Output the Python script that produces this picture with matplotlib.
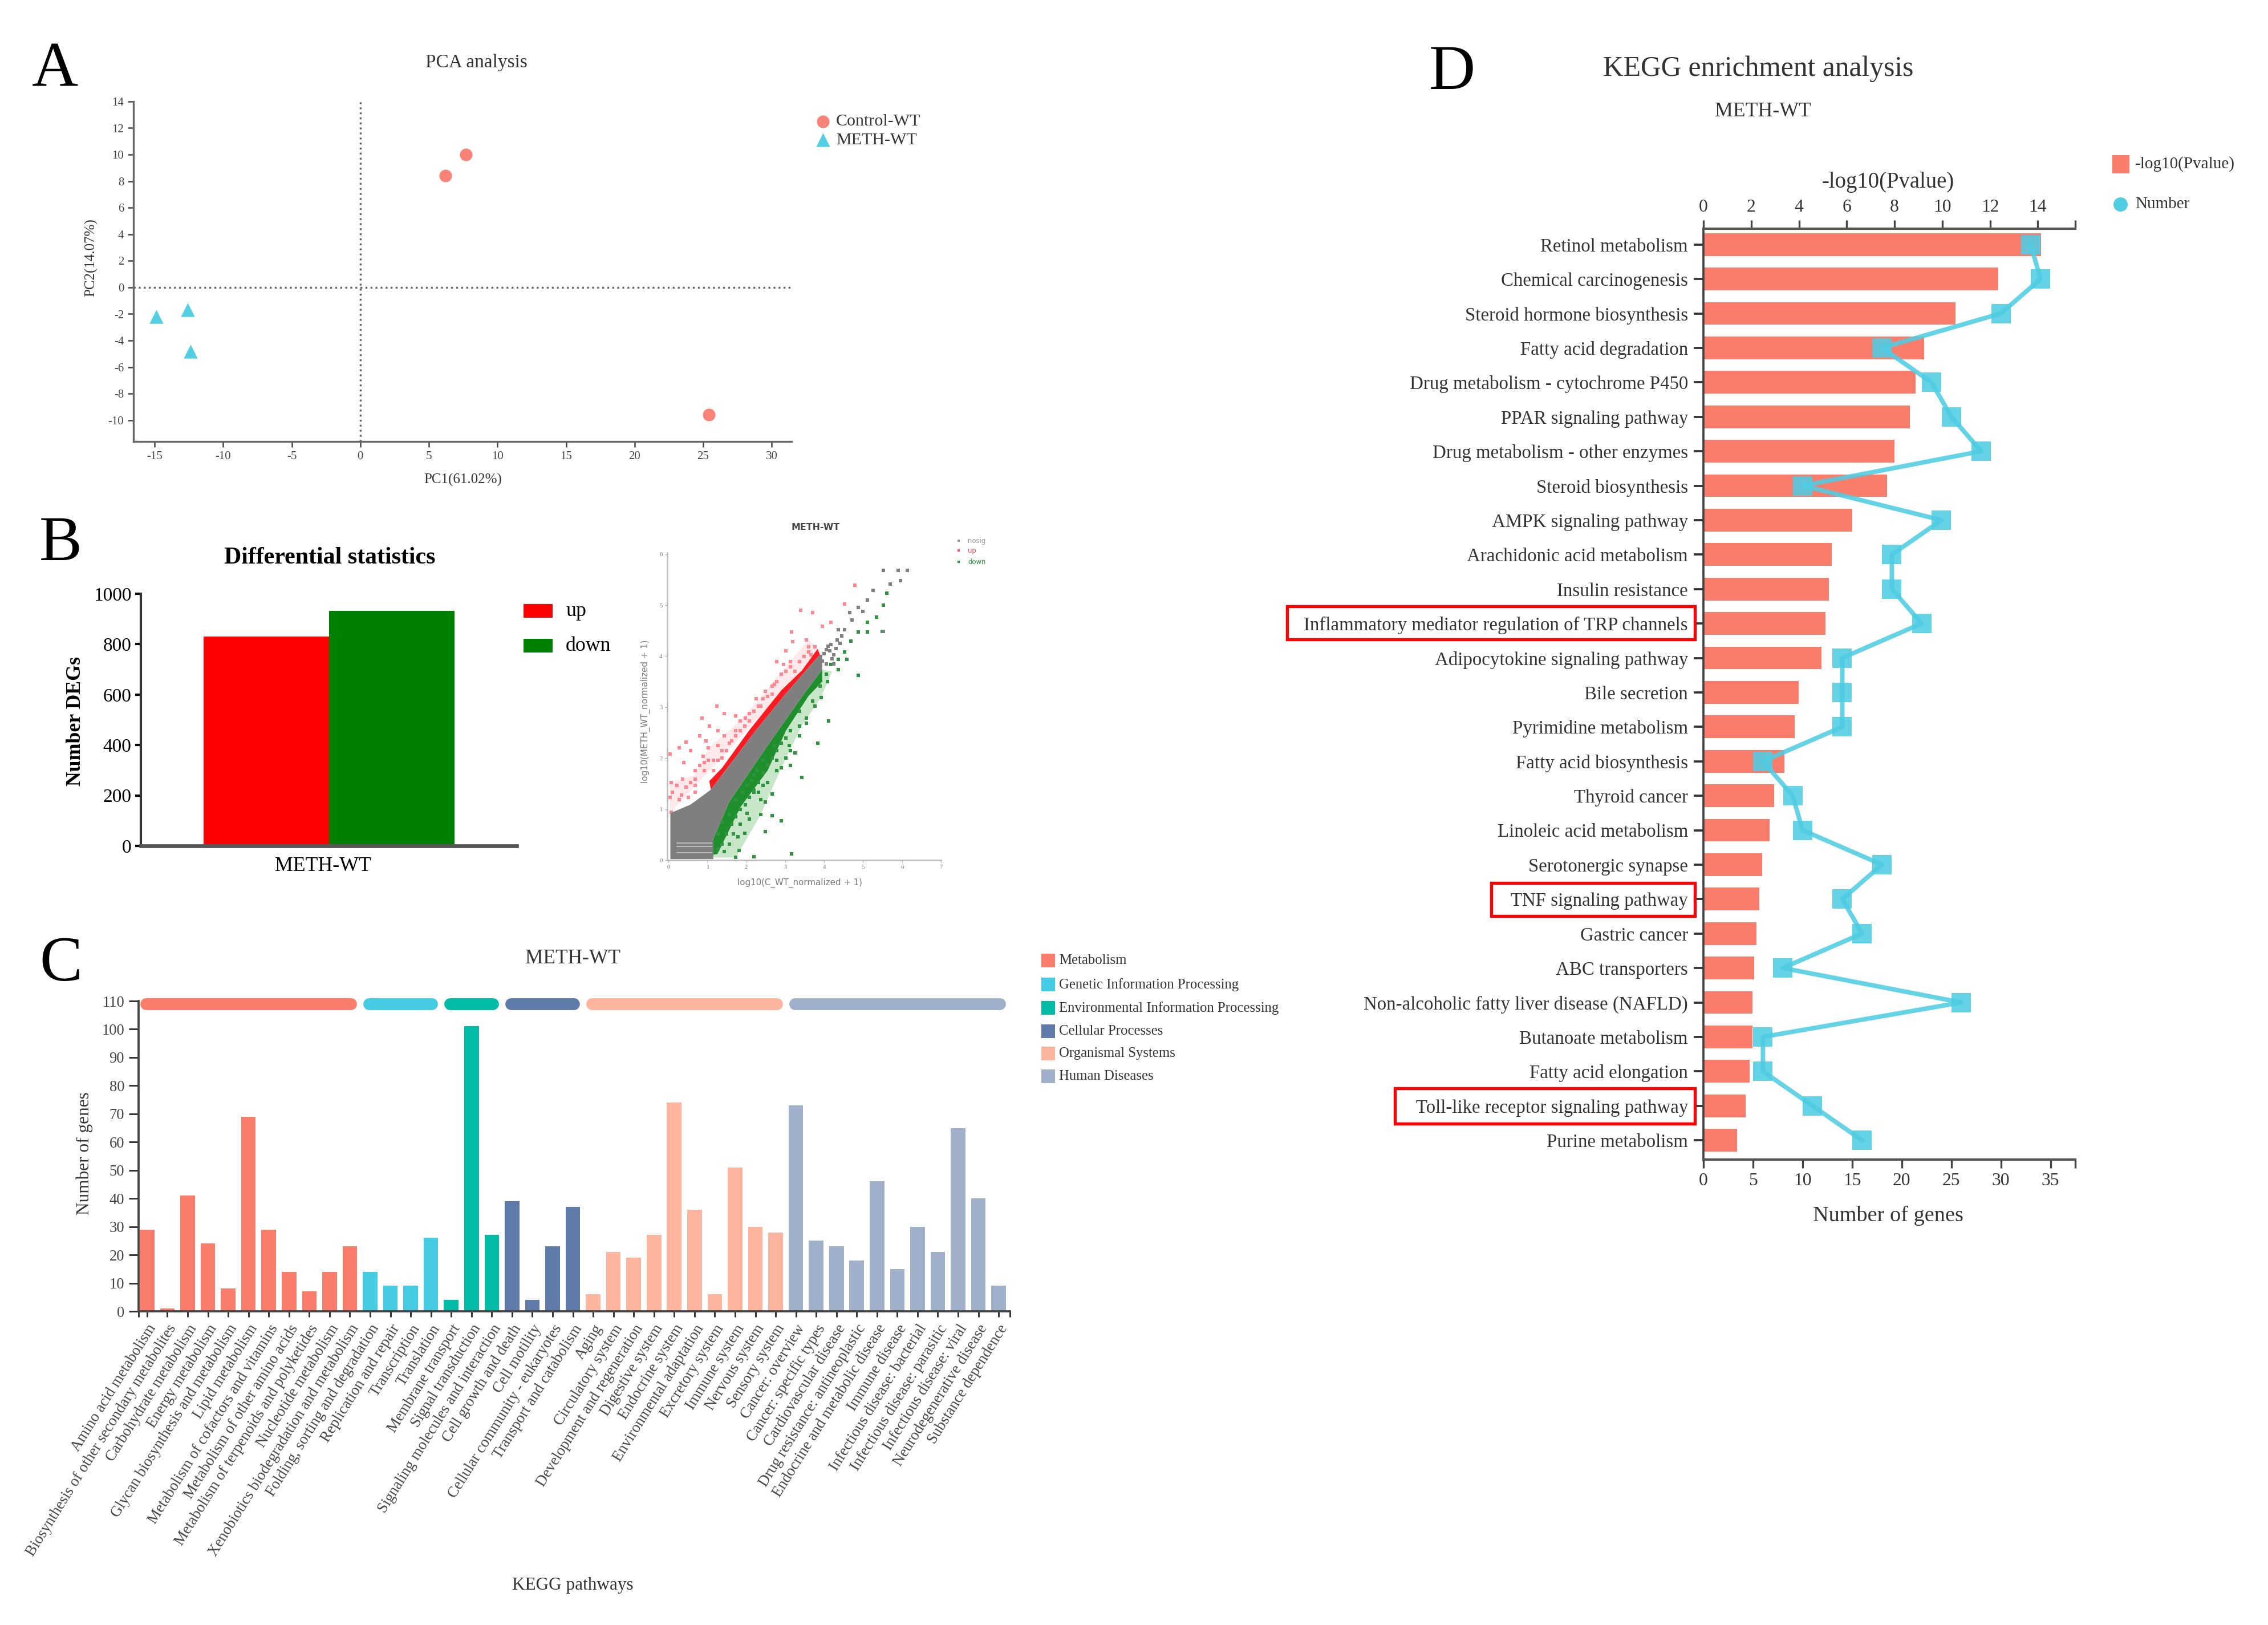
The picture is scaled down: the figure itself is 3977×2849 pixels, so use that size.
import matplotlib
matplotlib.use("Agg")
import matplotlib.pyplot as plt
from matplotlib.patches import Rectangle, Polygon

W, H = 3977, 2849
plt.rcParams['font.family'] = ['Liberation Serif', 'DejaVu Serif']
plt.rcParams['axes.unicode_minus'] = False

# ---------- Panel A ----------
pca_control_x = [7.7, 6.2, 25.4]
pca_control_y = [10.0, 8.4, -9.6]
pca_meth_x = [-14.9, -12.6, -12.4]
pca_meth_y = [-2.2, -1.7, -4.8]
pca_xticks = [-15, -10, -5, 0, 5, 10, 15, 20, 25, 30]
pca_yticks = [14, 12, 10, 8, 6, 4, 2, 0, -2, -4, -6, -8, -10]

# ---------- Panel B (bars) ----------
deg_labels = ['up', 'down']
deg_values = [831, 931]
deg_yticks = [0, 200, 400, 600, 800, 1000]

# ---------- Panel B (scatter): outlines and points ----------
grey_band_x = [0.05, 0.05, 0.57, 1.09, 1.38, 2.2, 3.0, 3.89, 3.95, 3.95, 3.48, 2.55, 1.56, 1.15, 1.15]
grey_band_y = [0.02, 0.92, 1.09, 1.38, 1.67, 2.5, 3.25, 4.03, 4.03, 3.74, 3.26, 2.25, 1.14, 0.41, 0.02]
red_band_x = [1.05, 1.38, 2.08, 2.90, 3.43, 3.83, 3.89, 3.0, 2.2, 1.38, 1.09]
red_band_y = [1.55, 1.81, 2.55, 3.33, 3.72, 4.14, 4.03, 3.25, 2.5, 1.67, 1.38]
green_band_x = [0.80, 1.26, 1.85, 2.55, 3.02, 3.60, 3.95, 3.95, 3.48, 2.55, 1.56, 1.15, 1.15]
green_band_y = [0.05, 0.12, 1.04, 1.76, 2.54, 3.22, 3.50, 3.74, 3.26, 2.25, 1.14, 0.41, 0.02]
stripe_y = [0.34, 0.27, 0.14]
pale_up_x = [0.04, 0.04, 0.68, 1.03, 1.56, 1.96, 2.55, 3.02, 3.60, 3.9]
pale_up_y = [0.92, 1.52, 1.67, 2.20, 2.54, 2.83, 3.36, 3.80, 4.32, 4.1]
pale_down_x = [0.80, 1.73, 2.37, 2.90, 3.42, 3.92, 4.2, 3.95]
pale_down_y = [0.05, 0.05, 0.89, 1.81, 2.63, 3.19, 3.7, 3.74]
up_x = [.04,.27,.45,.07,.04,.07,.36,.68,.89,.86,1.06,1.24,1.44,1.27,1.44,1.73,1.85,2.08,2.26,2.49,2.72,2.78,3.01,3.19,3.16,3.54,3.66,3.95,4.18,3.39,3.71,4.53,4.79,.68,.92,1.15,1.38,1.73,1.96,2.37,2.66,2.96,3.13,3.60,.51,.27,.68,1.03,1.27,1.56,
        .10,.22,.33,.45,.57,.68,.80,.92,1.03,1.15,1.27,1.38,1.50,1.62,1.73,1.85,1.97,2.08,2.20,2.31,2.43,2.55,2.66,2.78,2.90,3.01,3.13,3.25,3.36,3.48,3.60,3.77,.39,.57,.80,.97]
up_y = [2.08,2.20,2.32,1.52,1.23,.94,1.59,1.59,2.03,2.78,2.63,3.02,2.87,2.54,2.44,2.83,2.73,2.87,3.16,3.31,3.45,3.89,4.11,4.28,4.47,4.32,4.03,4.59,4.66,4.90,4.86,5.02,5.39,1.33,1.76,1.96,2.15,2.54,2.63,3.02,3.26,3.84,3.79,4.08,1.23,1.18,1.47,2.20,2.25,2.29,
        1.33,1.47,1.28,1.43,1.52,1.76,1.86,1.91,1.96,1.76,1.96,2.00,2.15,2.34,2.44,2.54,2.78,2.73,2.92,3.02,3.16,3.21,3.41,3.50,3.65,3.70,3.89,3.70,3.89,3.99,4.18,4.18,1.91,2.15,2.44,2.34]
down_x = [5.61,5.52,5.35,5.11,4.88,5.11,5.49,4.68,4.59,4.36,4.18,4.88,4.09,3.92,3.54,3.36,4.12,3.83,3.42,3.13,3.25,3.01,2.78,2.66,2.49,2.37,2.90,2.66,2.37,2.49,2.08,1.79,1.82,2.20,1.73,3.16,1.96,3.13,3.10,2.72,2.43,2.20,2.20,2.90,3.77,3.36,
          1.27,1.38,1.50,1.62,1.73,1.85,1.97,2.08,2.20,2.31,2.43,2.55,2.66,2.78,2.90,3.01,1.38,1.56,1.73,1.91,2.02,2.14,2.29,2.43,1.56,1.44,1.27,1.67,1.85,2.02,2.31,2.55,2.78,3.13,3.36,3.54,3.71,3.89,4.06,4.36,4.53]
down_y = [5.24,5.00,4.76,4.66,4.47,4.47,4.49,4.30,3.94,3.74,3.84,3.62,3.50,3.19,2.78,2.63,2.73,2.29,1.62,1.86,2.10,2.00,1.96,1.30,1.14,1.18,.77,.87,.89,.56,.80,.46,.19,.07,.05,.12,.53,2.54,2.25,2.25,1.47,1.33,1.67,1.81,3.02,2.92,
          .51,.31,.51,.70,.85,.99,1.09,1.23,1.38,1.52,1.71,1.86,2.00,2.15,2.29,2.39,.75,.89,1.18,1.33,1.47,1.57,1.76,1.96,.31,.17,.22,.51,.70,.92,1.33,1.52,1.76,2.15,2.44,2.68,3.12,3.41,3.65,3.94,4.08]
nosig_x = [5.52,5.90,6.13,5.96,5.70,5.26,5.11,5.0,4.71,4.53,4.36,4.33,4.18,4.41,4.06,4.24,4.88,4.65,5.52,4.0,4.1,4.2,3.95,4.05,4.15,4.3,4.45,4.25]
nosig_y = [5.68,5.68,5.68,5.48,5.41,5.29,5.10,4.88,4.71,4.52,4.52,4.32,4.23,4.25,4.13,4.03,4.95,4.86,4.49,4.05,4.2,3.95,3.9,3.85,4.1,4.15,4.4,3.85]
scatter_xticks = [0, 1, 2, 3, 4, 5, 6, 7]
scatter_yticks = [0, 1, 2, 3, 4, 5, 6]

# ---------- Panel C ----------
group_names = ['Metabolism', 'Genetic Information Processing',
               'Environmental Information Processing', 'Cellular Processes',
               'Organismal Systems', 'Human Diseases']
group_colors = ['#FA7D6C', '#45CCE2', '#00BBA5', '#5F7BAA', '#FFB49E', '#A0AFCA']
group_sizes = [11, 4, 3, 4, 10, 11]
pathways = [
    'Amino acid metabolism', 'Biosynthesis of other secondary metabolites',
    'Carbohydrate metabolism', 'Energy metabolism',
    'Glycan biosynthesis and metabolism', 'Lipid metabolism',
    'Metabolism of cofactors and vitamins', 'Metabolism of other amino acids',
    'Metabolism of terpenoids and polyketides', 'Nucleotide metabolism',
    'Xenobiotics biodegradation and metabolism',
    'Folding, sorting and degradation', 'Replication and repair', 'Transcription', 'Translation',
    'Membrane transport', 'Signal transduction', 'Signaling molecules and interaction',
    'Cell growth and death', 'Cell motility', 'Cellular community - eukaryotes', 'Transport and catabolism',
    'Aging', 'Circulatory system', 'Development and regeneration', 'Digestive system',
    'Endocrine system', 'Environmental adaptation', 'Excretory system', 'Immune system',
    'Nervous system', 'Sensory system',
    'Cancer: overview', 'Cancer: specific types', 'Cardiovascular disease',
    'Drug resistance: antineoplastic', 'Endocrine and metabolic disease', 'Immune disease',
    'Infectious disease: bacterial', 'Infectious disease: parasitic', 'Infectious disease: viral',
    'Neurodegenerative disease', 'Substance dependence']
pathway_genes = [29, 1, 41, 24, 8, 69, 29, 14, 7, 14, 23,
                 14, 9, 9, 26,
                 4, 101, 27,
                 39, 4, 23, 37,
                 6, 21, 19, 27, 74, 36, 6, 51, 30, 28,
                 73, 25, 23, 18, 46, 15, 30, 21, 65, 40, 9]
pathway_yticks = list(range(0, 111, 10))

# ---------- Panel D ----------
kegg_terms = [
    'Retinol metabolism', 'Chemical carcinogenesis', 'Steroid hormone biosynthesis',
    'Fatty acid degradation', 'Drug metabolism - cytochrome P450', 'PPAR signaling pathway',
    'Drug metabolism - other enzymes', 'Steroid biosynthesis', 'AMPK signaling pathway',
    'Arachidonic acid metabolism', 'Insulin resistance',
    'Inflammatory mediator regulation of TRP channels', 'Adipocytokine signaling pathway',
    'Bile secretion', 'Pyrimidine metabolism', 'Fatty acid biosynthesis', 'Thyroid cancer',
    'Linoleic acid metabolism', 'Serotonergic synapse', 'TNF signaling pathway', 'Gastric cancer',
    'ABC transporters', 'Non-alcoholic fatty liver disease (NAFLD)', 'Butanoate metabolism',
    'Fatty acid elongation', 'Toll-like receptor signaling pathway', 'Purine metabolism']
kegg_logp = [14.13, 12.34, 10.55, 9.25, 8.89, 8.64, 8.0, 7.69, 6.23, 5.37, 5.24, 5.11, 4.93,
             3.99, 3.83, 3.40, 2.96, 2.78, 2.45, 2.35, 2.22, 2.12, 2.04, 2.04, 1.94, 1.76, 1.41]
kegg_number = [33, 34, 30, 18, 23, 25, 28, 10, 24, 19, 19, 22, 14,
               14, 14, 6, 9, 10, 18, 14, 16, 8, 26, 6, 6, 11, 16]
kegg_top_ticks = [0, 2, 4, 6, 8, 10, 12, 14]
kegg_bottom_ticks = [0, 5, 10, 15, 20, 25, 30, 35]

fig = plt.figure(figsize=((W + 0.1) / 300, (H + 0.1) / 300), dpi=300, facecolor='white')


def px_axes(l, t, r, b):
    return fig.add_axes([l / W, 1 - b / H, (r - l) / W, (b - t) / H])


def label(x, y, s, **kw):
    kw.setdefault('ha', 'center')
    kw.setdefault('va', 'center')
    kw.setdefault('color', '#333333')
    fig.text(x / W, 1 - y / H, s, **kw)


def box(l, t, r, b, **kw):
    fig.add_artist(Rectangle((l / W, 1 - b / H), (r - l) / W, (b - t) / H,
                             transform=fig.transFigure, **kw))


for x, y, s in [(96, 124, 'A'), (106, 955, 'B'), (107, 1692, 'C'), (2546, 129, 'D')]:
    label(x, y, s, fontsize=27, color='black')

# ========== A ==========
CIRCLE = '#FA8377'
TRI = '#52CFE3'
ax = px_axes(234, 178, 1388, 774)
ax.scatter(pca_control_x, pca_control_y, s=28, c=CIRCLE, marker='o', linewidths=0, clip_on=False)
ax.scatter(pca_meth_x, pca_meth_y, s=34, c=TRI, marker='^', linewidths=0, clip_on=False)
ax.axhline(0, color='#666666', lw=0.8, ls=':')
ax.axvline(0, color='#666666', lw=0.8, ls=':')
ax.set_xlim(-16.55, 31.45)
ax.set_ylim(-11.6, 14)
ax.set_xticks(pca_xticks)
ax.set_yticks(pca_yticks)
ax.tick_params(labelsize=5, length=2.5, width=0.6, color='#444444', labelcolor='#444444', pad=1.5)
for s in ['top', 'right']:
    ax.spines[s].set_visible(False)
for s in ['left', 'bottom']:
    ax.spines[s].set_color('#666666')
    ax.spines[s].set_linewidth(0.8)
label(835, 110, 'PCA analysis', fontsize=8)
label(812, 841, 'PC1(61.02%)', fontsize=6)
label(160, 452, 'PC2(14.07%)', fontsize=6, rotation=90)
lg = px_axes(1420, 195, 1620, 265)
lg.set_xlim(0, 200); lg.set_ylim(70, 0); lg.axis('off')
lg.scatter([23], [18], s=28, c=CIRCLE, linewidths=0)
lg.scatter([23], [50], s=34, c=TRI, marker='^', linewidths=0)
label(1466, 213, 'Control-WT', fontsize=7.2, ha='left')
label(1466, 246, 'METH-WT', fontsize=7.2, ha='left')

# ========== B bars ==========
ax = px_axes(247, 1041, 906, 1483)
ax.bar([-0.5, 0.5], deg_values, width=1.0, color=['#FF0000', '#008000'])
ax.set_xlim(-1.5, 1.495)
ax.set_ylim(0, 1000)
ax.set_xticks([-0.05], ['METH-WT'])
ax.set_yticks(deg_yticks)
ax.tick_params(axis='x', length=0, labelsize=8.6, pad=4.5)
ax.tick_params(axis='y', length=2.5, width=1, labelsize=8, pad=1.5)
for s in ['top', 'right']:
    ax.spines[s].set_visible(False)
ax.spines['left'].set_linewidth(1.0)
ax.spines['left'].set_color('#333333')
ax.spines['bottom'].set_linewidth(1.6)
ax.spines['bottom'].set_color('#555555')
label(578, 978, 'Differential statistics', fontsize=10.1, fontweight='bold', color='black')
label(132, 1264, 'Number DEGs', fontsize=8.6, fontweight='bold', rotation=90, color='black')
box(918, 1059, 969, 1083, facecolor='#FF0000', edgecolor='none')
box(918, 1120, 969, 1144, facecolor='#008000', edgecolor='none')
label(992, 1071, deg_labels[0], fontsize=8.6, ha='left', color='black')
label(992, 1132, deg_labels[1], fontsize=8.6, ha='left', color='black')

# ========== B scatter ==========
ax = px_axes(1170, 969, 1650, 1508)
ax.set_xlim(-0.03, 7)
ax.set_ylim(0, 6.03)
ax.add_patch(Polygon(list(zip(pale_up_x, pale_up_y)), closed=True, facecolor='#FFD5D9', edgecolor='none', alpha=0.5))
ax.add_patch(Polygon(list(zip(pale_down_x, pale_down_y)), closed=True, facecolor='#9CD49C', edgecolor='none', alpha=0.55))
ax.add_patch(Polygon(list(zip(red_band_x, red_band_y)), closed=True, facecolor='#FF1A22', edgecolor='none'))
ax.add_patch(Polygon(list(zip(green_band_x, green_band_y)), closed=True, facecolor='#1F8F2E', edgecolor='none'))
ax.scatter(up_x, up_y, s=1.5, c='#FF8792', marker='s', linewidths=0)
ax.scatter(down_x, down_y, s=1.5, c='#2E9440', marker='s', linewidths=0)
ax.scatter(nosig_x, nosig_y, s=2.2, c='#808080', marker='s', linewidths=0)
ax.add_patch(Polygon(list(zip(grey_band_x, grey_band_y)), closed=True, facecolor='#7F7F7F', edgecolor='none'))
ax.hlines(stripe_y, 0.2, 1.12, color='#C8C8C8', lw=0.4)
ax.set_xticks(scatter_xticks)
ax.set_yticks(scatter_yticks)
ax.tick_params(labelsize=2.6, length=1, width=0.3, color='#AAAAAA', labelcolor='#777777', pad=1)
for s in ['top', 'right']:
    ax.spines[s].set_visible(False)
for s in ['left', 'bottom']:
    ax.spines[s].set_color('#BBBBBB')
    ax.spines[s].set_linewidth(0.6)
label(1430, 924, 'METH-WT', fontsize=3.8, fontweight='bold', family='DejaVu Sans', color='#444444')
label(1402, 1548, 'log10(C_WT_normalized + 1)', fontsize=3.6, family='DejaVu Sans', color='#777777')
label(1132, 1247, 'log10(METH_WT_normalized + 1)', fontsize=3.6, family='DejaVu Sans', color='#777777', rotation=90)
for yy, txt, col in [(948, 'nosig', '#999999'), (965, 'up', '#FF5060'), (985, 'down', '#2E9440')]:
    label(1697, yy, txt, fontsize=2.8, ha='left', family='DejaVu Sans', color=col)
    box(1679, yy - 2, 1683, yy + 2, facecolor=col, edgecolor='none')

# ========== C ==========
ax = px_axes(243, 1755, 1771, 2299)
colors = []
for name_color, n in zip(group_colors, group_sizes):
    colors += [name_color] * n
positions = list(range(len(pathways)))
ax.bar(positions, pathway_genes, width=0.72, color=colors)
ax.set_xlim(-0.42, 42.56)
ax.set_ylim(0, 110)
ax.set_yticks(pathway_yticks)
ax.set_xticks(positions, pathways, rotation=58, ha='right', rotation_mode='anchor')
ax.set_xticks([-0.42, 42.56], minor=True)
ax.tick_params(axis='x', which='both', length=2.5, width=0.7, color='#333333')
ax.tick_params(axis='x', which='major', labelsize=6.45, labelcolor='#444444', pad=2)
ax.tick_params(axis='y', length=4, width=0.7, color='#333333', labelsize=6.4, labelcolor='#444444', pad=2)
for s in ['top', 'right']:
    ax.spines[s].set_visible(False)
for s in ['left', 'bottom']:
    ax.spines[s].set_color('#444444')
    ax.spines[s].set_linewidth(0.9)
start = 0
for c, n in zip(group_colors, group_sizes):
    stop = start + n - 1
    ax.plot([start - 0.05, stop + 0.05], [108.9, 108.9], color=c, lw=5, solid_capstyle='round', clip_on=False)
    start += n
label(1004, 1680, 'METH-WT', fontsize=8.5)
label(1004, 2779, 'KEGG pathways', fontsize=7.5)
label(148, 2022, 'Number of genes', fontsize=7.5, rotation=90)
for yy, c, n in zip([1684, 1726, 1767, 1808, 1847, 1887], group_colors, group_names):
    box(1826, yy - 12, 1850, yy + 12, facecolor=c, edgecolor='none')
    label(1857, yy, n, fontsize=5.95, ha='left')

# ========== D ==========
BAR = '#FA7C6B'
LINE = '#4ECDE3'
ax = px_axes(2987, 401, 3639, 2033)
ys = list(range(len(kegg_terms)))
ax.barh(ys, kegg_logp, height=0.66, color=BAR)
ax.set_xlim(0, 15.57)
ax.set_ylim(26.56, -0.46)
ax.set_yticks(ys, kegg_terms)
ax.tick_params(axis='y', length=4, width=0.9, labelsize=7.9, labelcolor='#333333', color='#333333', pad=2.5)
ax.spines['right'].set_visible(False)
ax.spines['bottom'].set_visible(False)
ax.spines['left'].set_linewidth(0.9)
ax.spines['left'].set_color('#444444')
ax.spines['top'].set_linewidth(1.0)
ax.spines['top'].set_color('#555555')
ax2 = ax.twiny()
ax2.plot(kegg_number, ys, color=LINE, lw=1.9, marker='s', ms=8, mew=0, alpha=0.88)
ax2.set_xlim(0, 37.5)
ax2.xaxis.tick_bottom()
ax2.set_xticks(kegg_bottom_ticks)
ax2.set_xticks([37.5], minor=True)
ax2.tick_params(axis='x', which='both', length=3.5, width=0.8, color='#444444')
ax2.tick_params(axis='x', which='major', labelsize=7.6, labelcolor='#333333', pad=2)
for s in ['top', 'right', 'left']:
    ax2.spines[s].set_visible(False)
ax2.spines['bottom'].set_visible(True)
ax2.spines['bottom'].set_linewidth(1.0)
ax2.spines['bottom'].set_color('#555555')
ax.xaxis.tick_top()
ax.set_xticks(kegg_top_ticks)
ax.set_xticks([15.57], minor=True)
ax.tick_params(axis='x', which='both', length=3.5, width=0.8, color='#444444')
ax.tick_params(axis='x', which='major', labelsize=7.6, labelcolor='#333333', pad=2)
label(3083, 121, 'KEGG enrichment analysis', fontsize=11.9)
label(3091, 195, 'METH-WT', fontsize=8.6)
label(3311, 319, '-log10(Pvalue)', fontsize=9.3)
label(3311, 2131, 'Number of genes', fontsize=9.2)
box(3704, 272, 3734, 304, facecolor=BAR, edgecolor='none')
label(3744, 288, '-log10(Pvalue)', fontsize=7, ha='left')
lg = px_axes(3700, 340, 3736, 376)
lg.set_xlim(0, 36); lg.set_ylim(36, 0); lg.axis('off')
lg.scatter([18], [18], s=36, c=LINE, linewidths=0)
label(3744, 358, 'Number', fontsize=7, ha='left')
for l, t, r, b in [(2257, 1063, 2972, 1121), (2615, 1548, 2972, 1606), (2446, 1908, 2972, 1970)]:
    box(l, t, r, b, facecolor='none', edgecolor='#FF0000', linewidth=1.3)

fig.savefig('out.png', dpi=300)
